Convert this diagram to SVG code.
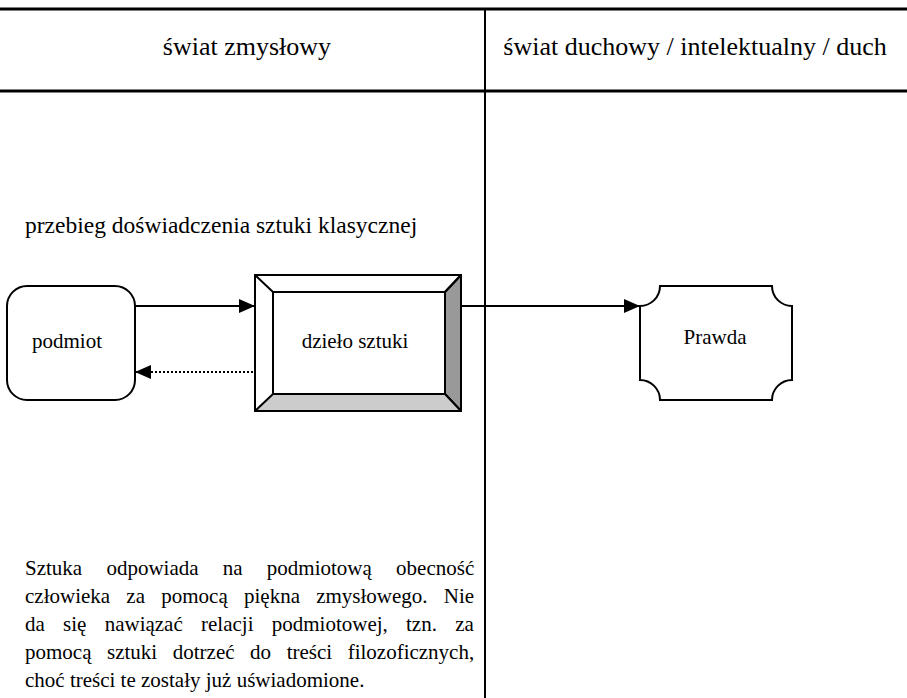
<svg xmlns="http://www.w3.org/2000/svg" width="907" height="698" viewBox="0 0 907 698">
<style>
text{font-family:"Liberation Serif","Times New Roman",serif;fill:#000}
.h{font-size:26px;text-anchor:middle}
.n{font-size:21px;text-anchor:middle}
.b{font-size:21px}
.rule{stroke:#000;fill:none}
.shape{stroke:#000;stroke-width:2;fill:#fff}
.edge{stroke:#000;stroke-width:2;fill:none}
.dot{stroke-dasharray:2 2}
</style>
<defs>
<marker id="ah" markerUnits="userSpaceOnUse" markerWidth="16" markerHeight="14" viewBox="0 0 16 14" refX="16" refY="7" orient="auto">
<path d="M0,0 L16,7 L0,14 Z" fill="#000"/>
</marker>
</defs>
<rect width="907" height="698" fill="#fff"/>
<g id="frame">
<line class="rule" x1="0" y1="9" x2="907" y2="9" stroke-width="3"/>
<line class="rule" x1="0" y1="91" x2="907" y2="91" stroke-width="3"/>
<line class="rule" x1="485" y1="9" x2="485" y2="698" stroke-width="2"/>
<text class="h" x="247" y="55">świat zmysłowy</text>
<text class="h" x="695" y="55">świat duchowy / intelektualny / duch</text>
</g>
<g id="connectors">
<path class="edge" d="M135,306 H255" marker-end="url(#ah)"/>
<path class="edge dot" d="M257,372 H135" marker-end="url(#ah)"/>
<path class="edge" d="M461,306 H640" marker-end="url(#ah)"/>
</g>
<g id="podmiot">
<rect class="shape" x="7" y="286" width="128" height="114" rx="20"/>
<text class="n" x="67" y="348">podmiot</text>
</g>
<g id="dzielo">
<rect class="shape" x="255" y="275" width="206" height="136"/>
<polygon points="461,275 461,411 445,394 445,292" fill="#999" stroke="#000" stroke-width="2" stroke-linejoin="round"/>
<polygon points="255,411 461,411 445,394 273,394" fill="#ccc" stroke="#000" stroke-width="2" stroke-linejoin="round"/>
<line x1="255" y1="275" x2="273" y2="292" stroke="#000" stroke-width="2"/>
<line x1="461" y1="275" x2="445" y2="292" stroke="#000" stroke-width="2"/>
<rect x="273" y="292" width="172" height="102" fill="#fff" stroke="#000" stroke-width="2"/>
<rect x="255" y="275" width="206" height="136" fill="none" stroke="#000" stroke-width="2"/>
<text class="n" x="355" y="348">dzieło sztuki</text>
</g>
<g id="prawda">
<path class="shape" d="M660,286 H772 A20,20 0 0 0 792,306 V380 A20,20 0 0 0 772,400 H660 A20,20 0 0 0 640,380 V306 A20,20 0 0 0 660,286 Z"/>
<text class="n" x="715" y="344">Prawda</text>
</g>
<g id="texts">
<text class="b" x="25" y="233" style="font-size:23.5px">przebieg doświadczenia sztuki klasycznej</text>
<text class="b" x="25" y="575" word-spacing="19">Sztuka odpowiada na podmiotową obecność</text>
<text class="b" x="25" y="603" word-spacing="11">człowieka za pomocą piękna zmysłowego. Nie</text>
<text class="b" x="25" y="631" word-spacing="13">da się nawiązać relacji podmiotowej, tzn. za</text>
<text class="b" x="25" y="659" word-spacing="10.3">pomocą sztuki dotrzeć do treści filozoficznych,</text>
<text class="b" x="25" y="687">choć treści te zostały już uświadomione.</text>
</g>
</svg>
